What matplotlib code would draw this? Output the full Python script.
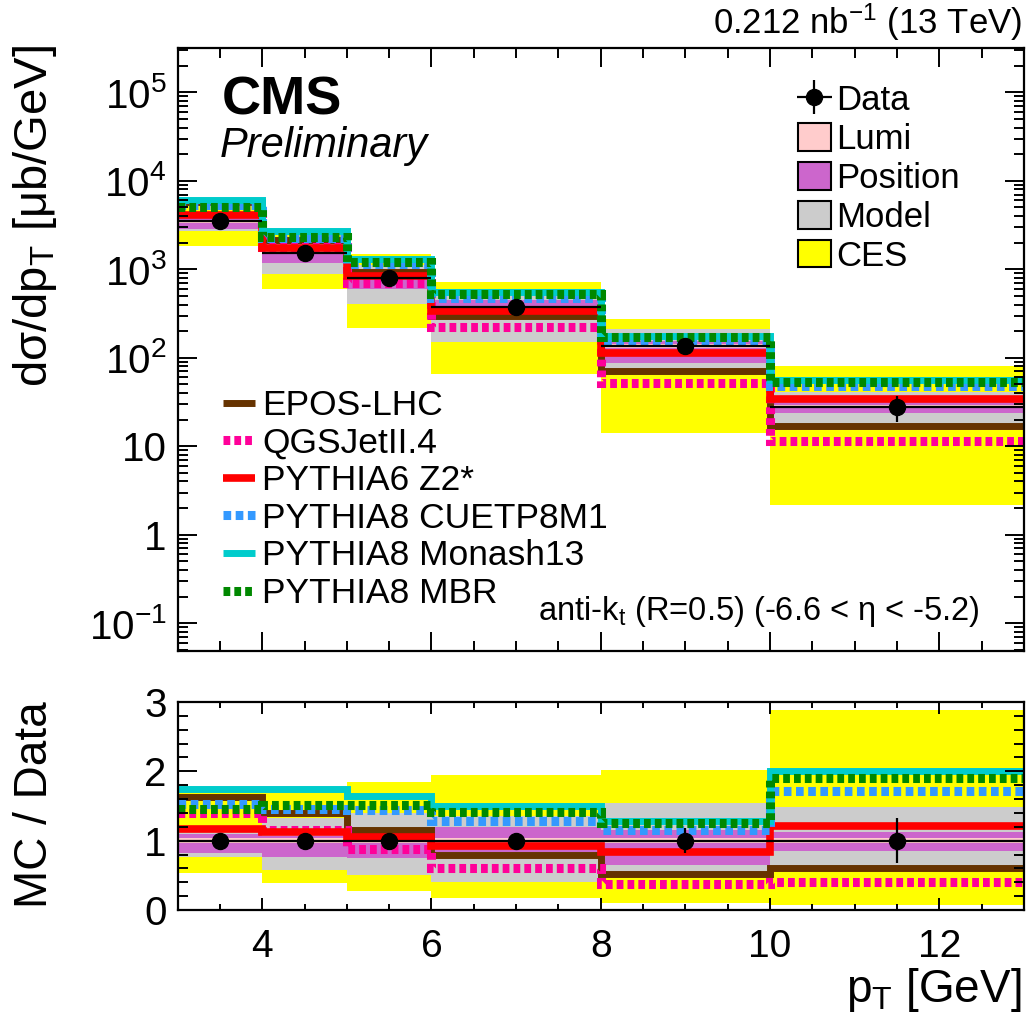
import matplotlib
matplotlib.use("Agg")
import matplotlib.pyplot as plt
import numpy as np
from matplotlib.lines import Line2D
from matplotlib.patches import Patch
from matplotlib.ticker import FixedLocator, LogLocator, MultipleLocator, NullFormatter

plt.rcParams["font.family"] = ["Liberation Sans", "DejaVu Sans"]
plt.rcParams["mathtext.fontset"] = "custom"
plt.rcParams["mathtext.rm"] = "Liberation Sans"
plt.rcParams["mathtext.it"] = "Liberation Sans:italic"
plt.rcParams["mathtext.bf"] = "Liberation Sans:bold"

# binning and measured cross section
PT_EDGES = [3, 4, 5, 6, 8, 10, 13]
DATA_XSEC = [3500, 1540, 800, 370, 136, 28]
DATA_STAT = [0.01, 0.02, 0.03, 0.05, 0.18, 0.32]  # relative

# MC / data ratios
EPOS = [1.63, 1.40, 1.15, 0.80, 0.52, 0.61]
QGSJET = [1.40, 1.15, 0.88, 0.60, 0.38, 0.41]
PYTHIA6 = [1.17, 1.13, 1.06, 0.92, 0.84, 1.21]
CUETP8M1 = [1.53, 1.45, 1.44, 1.29, 1.16, 1.71]
MONASH = [1.75, 1.75, 1.65, 1.50, 1.28, 2.01]
MBR = [1.45, 1.52, 1.51, 1.41, 1.25, 1.91]

# systematic bands, relative to data (low, high)
LUMI_LO = [0.96, 0.96, 0.96, 0.96, 0.96, 0.96]
LUMI_HI = [1.04, 1.04, 1.04, 1.04, 1.04, 1.04]
POS_LO = [0.82, 0.77, 0.75, 0.83, 0.65, 0.845]
POS_HI = [1.10, 1.07, 1.10, 1.20, 1.15, 1.13]
MODEL_LO = [0.77, 0.58, 0.51, 0.41, 0.50, 0.60]
MODEL_HI = [1.20, 1.33, 1.40, 1.35, 1.55, 1.48]
CES_LO = [0.53, 0.39, 0.27, 0.175, 0.105, 0.078]
CES_HI = [1.72, 1.72, 1.84, 1.95, 2.02, 2.88]

Y_TICKS = [0.1, 1, 10, 100, 1e3, 1e4, 1e5]
Y_TICK_LABELS = ["10$^{-1}$", "1", "10", "10$^{2}$", "10$^{3}$", "10$^{4}$", "10$^{5}$"]

BANDS = [
    ("CES", CES_LO, CES_HI, "#ffff00"),
    ("Model", MODEL_LO, MODEL_HI, "#cccccc"),
    ("Position", POS_LO, POS_HI, "#cc66cc"),
    ("Lumi", LUMI_LO, LUMI_HI, "#ffcccc"),
]

DOT = (0, (0.75, 0.45))
DASH = (0, (0.85, 0.5))
MODELS = [
    ("EPOS-LHC", EPOS, "#663300", "-", 5.0),
    ("QGSJetII.4", QGSJET, "#ff0099", DOT, 6.5),
    ("PYTHIA6 Z2*", PYTHIA6, "#ff0000", "-", 5.5),
    ("PYTHIA8 CUETP8M1", CUETP8M1, "#3399ff", DASH, 6.5),
    ("PYTHIA8 Monash13", MONASH, "#00cccc", "-", 5.0),
    ("PYTHIA8 MBR", MBR, "#008800", DOT, 6.5),
]


def style_axis(ax, major_len, minor_len, x_major_len, x_minor_len):
    for side in ax.spines.values():
        side.set_linewidth(1.6)
    ax.tick_params(axis="both", which="both", direction="in", top=True, right=True, width=1.4)
    ax.tick_params(axis="y", which="major", length=major_len)
    ax.tick_params(axis="y", which="minor", length=minor_len)
    ax.tick_params(axis="x", which="major", length=x_major_len)
    ax.tick_params(axis="x", which="minor", length=x_minor_len)
    ax.xaxis.set_major_locator(MultipleLocator(2))
    ax.xaxis.set_minor_locator(MultipleLocator(0.5))
    ax.set_xlim(PT_EDGES[0], PT_EDGES[-1])


def main():
    edges = np.array(PT_EDGES, dtype=float)
    centers = 0.5 * (edges[1:] + edges[:-1])
    half = 0.5 * (edges[1:] - edges[:-1])
    data = np.array(DATA_XSEC, dtype=float)
    stat = np.array(DATA_STAT)

    fig = plt.figure(figsize=(10.27, 10.25), dpi=100)
    ax_top = fig.add_axes([0.1729, 0.3649, 0.8241, 0.5883])
    ax_bot = fig.add_axes([0.1729, 0.1122, 0.8241, 0.2029])

    # bands
    for name, lo, hi, color in BANDS:
        ax_top.stairs(data * np.array(hi), edges, baseline=data * np.array(lo),
                      fill=True, color=color, lw=0)
        ax_bot.stairs(np.array(hi), edges, baseline=np.array(lo),
                      fill=True, color=color, lw=0)

    # MC predictions
    model_handles = []
    for name, ratio, color, ls, lw in MODELS:
        r = np.array(ratio)
        for ax, vals in ((ax_top, data * r), (ax_bot, r)):
            st = ax.stairs(vals, edges, baseline=None, color=color, lw=lw)
            st.set_linestyle(ls)
            st.set_capstyle("butt")
        model_handles.append(Line2D([], [], color=color, lw=lw, ls=ls,
                                    solid_capstyle="butt", dash_capstyle="butt"))

    # data
    data_eb = ax_top.errorbar(centers, data, xerr=half, yerr=stat * data, fmt="o",
                              color="black", ms=11.5, lw=1.6, capsize=0)
    ax_bot.errorbar(centers, np.ones_like(centers), xerr=half, yerr=stat, fmt="o",
                    color="black", ms=11.5, lw=1.6, capsize=0)

    # top axis
    ax_top.set_yscale("log")
    ax_top.set_ylim(0.0486, 3.17e5)
    ax_top.yaxis.set_major_locator(FixedLocator(Y_TICKS))
    ax_top.set_yticklabels(Y_TICK_LABELS)
    ax_top.yaxis.set_minor_locator(LogLocator(base=10, subs=np.arange(2, 10)))
    ax_top.yaxis.set_minor_formatter(NullFormatter())
    style_axis(ax_top, 14, 7, 14, 7)
    ax_top.tick_params(axis="x", labelbottom=False)
    ax_top.tick_params(axis="y", labelsize=29, pad=8)

    # ratio axis
    ax_bot.set_ylim(0, 3)
    ax_bot.yaxis.set_major_locator(MultipleLocator(1))
    ax_bot.yaxis.set_minor_locator(MultipleLocator(0.2))
    style_axis(ax_bot, 14, 7, 8.5, 4.3)
    ax_bot.tick_params(axis="y", labelsize=29, pad=8)
    ax_bot.tick_params(axis="x", labelsize=28, pad=14)

    # legends
    box_kw = dict(edgecolor="black", lw=1.5)
    leg1 = ax_top.legend(
        handles=[data_eb] + [Patch(facecolor=c, **box_kw) for _, _, _, c in BANDS[::-1]],
        labels=["Data"] + [n for n, _, _, _ in BANDS[::-1]],
        loc="upper left", bbox_to_anchor=(0.777, 0.918), bbox_transform=fig.transFigure,
        frameon=False, fontsize=25, handlelength=0.95, handleheight=0.85,
        handletextpad=0.15, labelspacing=0.17, borderpad=0, borderaxespad=0)
    ax_top.add_artist(leg1)
    ax_top.legend(
        handles=model_handles, labels=[m[0] for m in MODELS],
        loc="upper left", bbox_to_anchor=(0.2171, 0.6205), bbox_transform=fig.transFigure,
        frameon=False, fontsize=25.5, handlelength=0.9,
        handletextpad=0.2, labelspacing=0.13, borderpad=0, borderaxespad=0)

    # texts
    fig.text(0.9951, 0.9785, "0.212 nb$^{-1}$ (13 TeV)", ha="right", va="center", fontsize=25)
    fig.text(0.2162, 0.9024, "CMS", ha="left", va="center", fontsize=39, fontweight="bold")
    fig.text(0.2142, 0.8576, "Preliminary", ha="left", va="center", fontsize=30, style="italic")
    fig.text(0.9542, 0.4039, "anti-k$_{\\mathrm{t}}$ (R=0.5) (-6.6 < η < -5.2)",
             ha="right", va="center", fontsize=23.5)
    fig.text(0.0341, 0.956, "dσ/dp$_{\\mathrm{T}}$ [μb/GeV]", rotation=90,
             ha="center", va="top", fontsize=34)
    fig.text(0.0341, 0.2146, "MC / Data", rotation=90, ha="center", va="center", fontsize=33)
    fig.text(0.9951, 0.0341, "p$_{\\mathrm{T}}$ [GeV]", ha="right", va="center", fontsize=33)

    fig.savefig("out.png", dpi=100)


if __name__ == "__main__":
    main()
